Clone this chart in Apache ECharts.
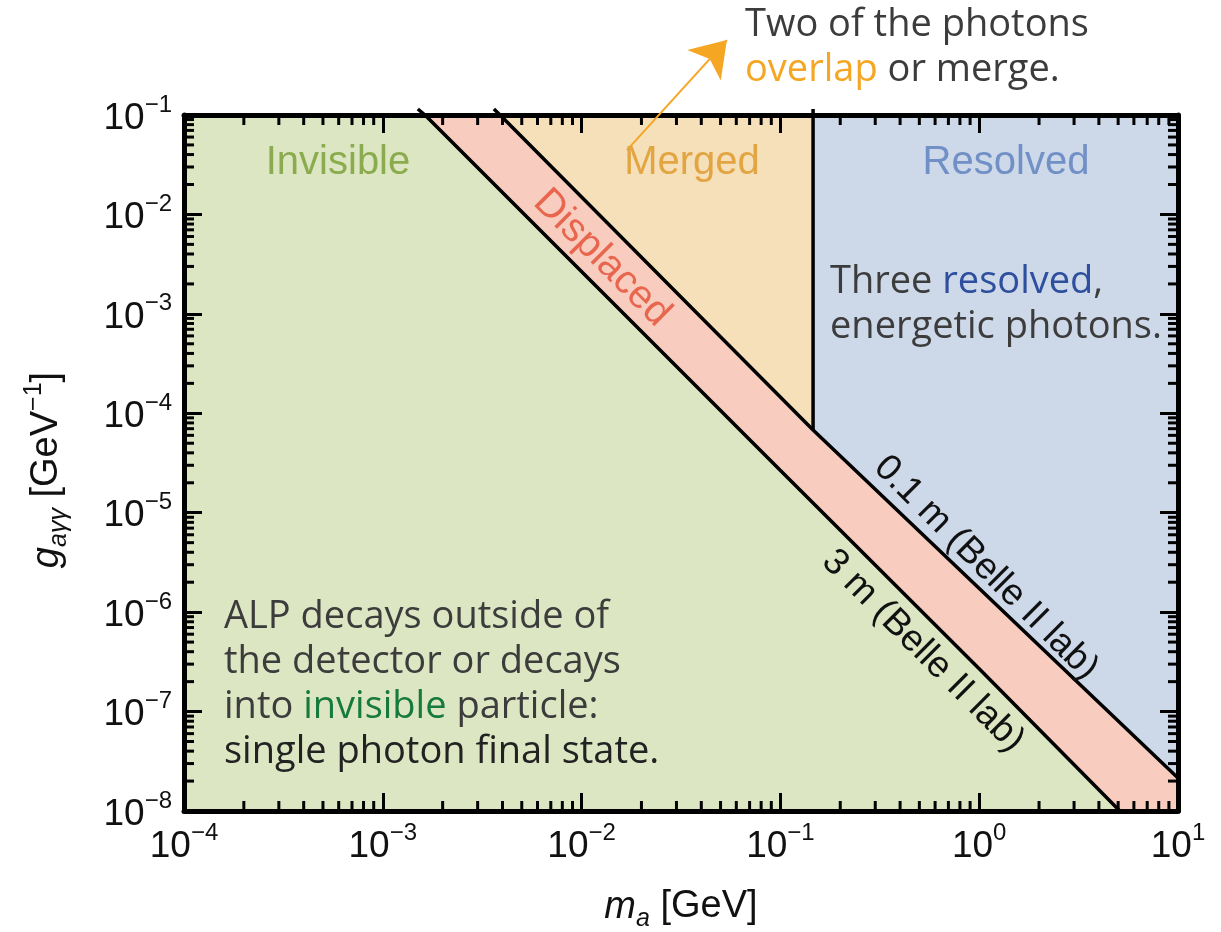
<!DOCTYPE html>
<html>
<head>
<meta charset="utf-8">
<title>ALP decay regimes at Belle II</title>
<script src="https://cdn.jsdelivr.net/npm/echarts@6/dist/echarts.min.js"></script>
<style>
  html, body { margin: 0; padding: 0; background: #ffffff; }
  #chart { width: 1221px; height: 932px; }
</style>
</head>
<body>
<div id="chart"></div>
<script>
// Axis ranges (log10 decades) and tick label exponents
const massRange = [1e-4, 10];            // m_a [GeV]
const couplingRange = [1e-8, 1e-1];      // g_aγγ [GeV^-1]
const massTickExps = [-4, -3, -2, -1, 0, 1];
const couplingTickExps = [-8, -7, -6, -5, -4, -3, -2, -1];

// Decay-length contours [m_a, g_aγγ]; first point pokes just above the frame
const decay3m = [[1.50e-3, 0.115], [1.63e-3, 0.1], [0.0351, 2.16e-4], [0.0995, 2.69e-5], [1.0, 2.7e-7], [5.1, 1e-8]];
const decay01m = [[3.62e-3, 0.115], [3.89e-3, 0.1], [0.146, 6.8e-5], [10, 2.15e-8]];

// Merged / resolved boundary in mass, and where it meets the 0.1 m contour
const mergeEdgeMass = 0.146;
const mergeEdgeIndex = 2;                 // index in decay01m of the meeting point
const mergeEdge = [[mergeEdgeMass, 0.115], [mergeEdgeMass, 6.8e-5]];

// Annotation arrow (tail, head) in [m_a, g_aγγ]
const arrowCoords = [[0.0169, 0.0444], [0.0538, 0.567]];

const [mLo, mHi] = massRange;
const [gLo, gHi] = couplingRange;

// Region polygons built from the contours and the plot bounds
const inner3m = decay3m.slice(1);
const inner01m = decay01m.slice(1);
const regions = [
  { name: 'Invisible', color: '#dde6c2',
    pts: [[mLo, gHi]].concat(inner3m, [[mLo, gLo]]) },
  { name: 'Displaced', color: '#f8cdc0',
    pts: inner3m.concat([[mHi, gLo]], inner01m.slice().reverse()) },
  { name: 'Merged', color: '#f5e0ba',
    pts: inner01m.slice(0, mergeEdgeIndex).concat([[mergeEdgeMass, gHi]]) },
  { name: 'Resolved', color: '#cdd8e9',
    pts: [[mergeEdgeMass, gHi], [mHi, gHi]].concat(inner01m.slice(mergeEdgeIndex - 1).reverse()) }
];

// Minor tick values (2..9 within each decade)
function minorValues(loExp, hiExp) {
  const out = [];
  for (let e = loExp; e < hiExp; e++) {
    for (let k = 2; k <= 9; k++) out.push(k * Math.pow(10, e));
  }
  return out;
}
const massMinor = minorValues(massTickExps[0], massTickExps[massTickExps.length - 1]);
const couplingMinor = minorValues(couplingTickExps[0], couplingTickExps[couplingTickExps.length - 1]);

const ARIAL = '"Liberation Sans", Arial, sans-serif';
const SANS = '"Open Sans", "Noto Sans", sans-serif';

function powerLabel(v) {
  const e = Math.round(Math.log10(v));
  return '{b|10}{s|' + (e < 0 ? '\u2212' + (-e) : e) + '}';
}
const tickRich = {
  b: { fontFamily: ARIAL, fontSize: 37, lineHeight: 44, verticalAlign: 'bottom', color: '#111' },
  s: { fontFamily: ARIAL, fontSize: 24, lineHeight: 24, verticalAlign: 'top', color: '#111' }
};

const frameLine = { show: true, onZero: false, lineStyle: { color: '#000', width: 5 } };
const majorTick = { show: true, inside: true, length: 18, lineStyle: { color: '#000', width: 3 } };

function xAxisCfg(pos, showLabel) {
  return {
    type: 'log', logBase: 10, position: pos, min: mLo, max: mHi, interval: 1,
    z: 5, axisLine: frameLine, axisTick: majorTick, splitLine: { show: false }, minorTick: { show: false },
    axisLabel: { show: showLabel, margin: 10, formatter: powerLabel, rich: tickRich }
  };
}
function yAxisCfg(pos, showLabel) {
  return {
    type: 'log', logBase: 10, position: pos, min: gLo, max: gHi, interval: 1,
    z: 5, axisLine: frameLine, axisTick: majorTick, splitLine: { show: false }, minorTick: { show: false },
    axisLabel: { show: showLabel, margin: 12, formatter: powerLabel, rich: tickRich }
  };
}

const chart = echarts.init(document.getElementById('chart'), null, { renderer: 'canvas' });

const option = {
  backgroundColor: '#ffffff',
  animation: false,
  grid: { left: 184, right: 43, top: 115, bottom: 121 },
  xAxis: [xAxisCfg('bottom', true), xAxisCfg('top', false)],
  yAxis: [yAxisCfg('left', true), yAxisCfg('right', false)],
  series: [
    {
      // Filled regions
      type: 'custom', z: 1, silent: true, clip: false,
      data: regions.map(r => r.pts[0]),
      renderItem: function (params, api) {
        const r = regions[params.dataIndex];
        return {
          type: 'polygon',
          shape: { points: r.pts.map(p => api.coord(p)) },
          style: { fill: r.color, stroke: null }
        };
      }
    },
    {
      // Minor ticks on bottom/top
      type: 'custom', z: 4, silent: true, clip: false,
      data: massMinor.map(v => [v, gLo]),
      renderItem: function (params, api) {
        const cs = params.coordSys;
        const x = api.coord([api.value(0), gLo])[0];
        const len = 10;
        return {
          type: 'group', children: [
            { type: 'line', shape: { x1: x, y1: cs.y + cs.height, x2: x, y2: cs.y + cs.height - len }, style: { stroke: '#000', lineWidth: 3 } },
            { type: 'line', shape: { x1: x, y1: cs.y, x2: x, y2: cs.y + len }, style: { stroke: '#000', lineWidth: 3 } }
          ]
        };
      }
    },
    {
      // Minor ticks on left/right
      type: 'custom', z: 4, silent: true, clip: false,
      data: couplingMinor.map(v => [mLo, v]),
      renderItem: function (params, api) {
        const cs = params.coordSys;
        const y = api.coord([mLo, api.value(1)])[1];
        const len = 10;
        return {
          type: 'group', children: [
            { type: 'line', shape: { x1: cs.x, y1: y, x2: cs.x + len, y2: y }, style: { stroke: '#000', lineWidth: 3 } },
            { type: 'line', shape: { x1: cs.x + cs.width, y1: y, x2: cs.x + cs.width - len, y2: y }, style: { stroke: '#000', lineWidth: 3 } }
          ]
        };
      }
    },
    {
      name: '3 m', type: 'line', z: 3, clip: false, silent: true, symbol: 'none',
      data: decay3m, lineStyle: { color: '#000', width: 3.5 }
    },
    {
      name: '0.1 m', type: 'line', z: 3, clip: false, silent: true, symbol: 'none',
      data: decay01m, lineStyle: { color: '#000', width: 3.5 }
    },
    {
      name: 'merge edge', type: 'line', z: 3, clip: false, silent: true, symbol: 'none',
      data: mergeEdge, lineStyle: { color: '#000', width: 3.5 }
    },
    {
      name: 'overlap arrow', type: 'lines', coordinateSystem: 'cartesian2d', z: 6, clip: false, silent: true,
      symbol: ['none', 'arrow'], symbolSize: [1, 34],
      lineStyle: { color: '#f5a623', width: 2, opacity: 1, curveness: 0 },
      data: [{ coords: arrowCoords }]
    }
  ],
  graphic: [
    // Region names
    { type: 'text', x: 338, y: 163, z: 10, style: { text: 'Invisible', font: '40px ' + ARIAL, fill: '#8bac4e', align: 'center', verticalAlign: 'middle' } },
    { type: 'text', x: 692, y: 163, z: 10, style: { text: 'Merged', font: '40px ' + ARIAL, fill: '#e2a541', align: 'center', verticalAlign: 'middle' } },
    { type: 'text', x: 1006, y: 163, z: 10, style: { text: 'Resolved', font: '40px ' + ARIAL, fill: '#7190c6', align: 'center', verticalAlign: 'middle' } },
    { type: 'text', x: 602, y: 258, rotation: -Math.PI / 4, z: 10, style: { text: 'Displaced', font: '40px ' + ARIAL, fill: '#e8664e', align: 'center', verticalAlign: 'middle' } },
    { type: 'text', x: 986, y: 568, rotation: -Math.PI / 4, z: 10, style: { text: '0.1 m (Belle II lab)', font: '37px ' + ARIAL, fill: '#111', align: 'center', verticalAlign: 'middle' } },
    { type: 'text', x: 923, y: 651, rotation: -Math.PI / 4, z: 10, style: { text: '3 m (Belle II lab)', font: '37px ' + ARIAL, fill: '#111', align: 'center', verticalAlign: 'middle' } },

    // Explanatory notes
    { type: 'text', x: 745, y: 3, z: 10, style: {
        text: '{a|Two of the photons}\n{o|overlap}{a| or merge.}', align: 'left', verticalAlign: 'top',
        rich: {
          a: { fontFamily: SANS, fontSize: 38, lineHeight: 45, fill: '#3c3c3c' },
          o: { fontFamily: SANS, fontSize: 38, lineHeight: 45, fill: '#f5a623' }
        } } },
    { type: 'text', x: 830, y: 260, z: 10, style: {
        text: '{a|Three }{r|resolved}{a|,}\n{a|energetic photons.}', align: 'left', verticalAlign: 'top',
        rich: {
          a: { fontFamily: SANS, fontSize: 38, lineHeight: 45, fill: '#3c3c3c' },
          r: { fontFamily: SANS, fontSize: 38, lineHeight: 45, fill: '#2d4f9e' }
        } } },
    { type: 'text', x: 224, y: 595, z: 10, style: {
        text: '{a|ALP decays outside of}\n{a|the detector or decays}\n{a|into }{g|invisible}{a| particle:}\n{f|single photon final state.}',
        align: 'left', verticalAlign: 'top',
        rich: {
          a: { fontFamily: SANS, fontSize: 38, lineHeight: 45, fill: '#3c3c3c' },
          g: { fontFamily: SANS, fontSize: 38, lineHeight: 45, fill: '#167a3e' },
          f: { fontFamily: SANS, fontSize: 38, lineHeight: 45, fill: '#222222', fontWeight: 500 }
        } } },

    // Axis titles
    { type: 'text', x: 681, y: 910, z: 10, style: {
        text: '{i|m}{sub|a}{n| [GeV]}', align: 'center', verticalAlign: 'middle',
        rich: {
          i: { fontFamily: ARIAL, fontStyle: 'italic', fontSize: 38, lineHeight: 44, verticalAlign: 'top', fill: '#111' },
          sub: { fontFamily: ARIAL, fontStyle: 'italic', fontSize: 25, lineHeight: 25, verticalAlign: 'bottom', fill: '#111' },
          n: { fontFamily: ARIAL, fontSize: 38, lineHeight: 44, verticalAlign: 'top', fill: '#111' }
        } } },
    { type: 'text', x: 47, y: 470, rotation: Math.PI / 2, z: 10, style: {
        text: '{i|g}{sub|a\u03b3\u03b3}{n| [GeV}{sup|\u22121}{n|]}', align: 'center', verticalAlign: 'middle',
        rich: {
          i: { fontFamily: ARIAL, fontStyle: 'italic', fontSize: 38, lineHeight: 50, verticalAlign: 'middle', fill: '#111' },
          sub: { fontFamily: ARIAL, fontStyle: 'italic', fontSize: 25, lineHeight: 25, verticalAlign: 'bottom', fill: '#111' },
          n: { fontFamily: ARIAL, fontSize: 38, lineHeight: 50, verticalAlign: 'middle', fill: '#111' },
          sup: { fontFamily: ARIAL, fontSize: 25, lineHeight: 25, verticalAlign: 'top', fill: '#111' }
        } } }
  ]
};

chart.setOption(option);
</script>
</body>
</html>
